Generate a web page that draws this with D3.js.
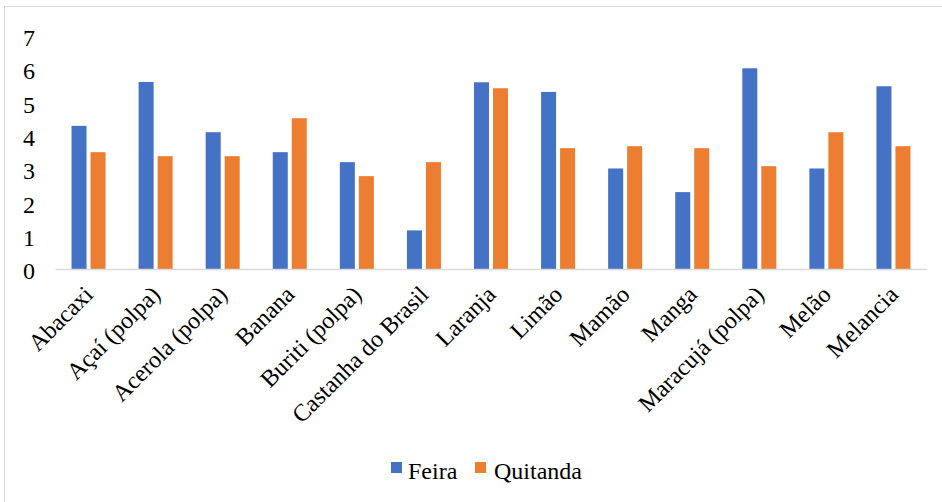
<!DOCTYPE html>
<html>
<head>
<meta charset="utf-8">
<script src="https://cdn.jsdelivr.net/npm/d3@7"></script>
<style>
  html, body { margin: 0; padding: 0; background: #fff; }
  svg { display: block; }
</style>
</head>
<body>
<svg id="chart" width="942" height="502"></svg>
<script>
const categories = ["Abacaxi", "Açaí (polpa)", "Acerola (polpa)", "Banana", "Buriti (polpa)",
  "Castanha do Brasil", "Laranja", "Limão", "Mamão", "Manga", "Maracujá (polpa)", "Melão", "Melancia"];
const seriesNames = ["Feira", "Quitanda"];
const feira =    [4.30, 5.62, 4.11, 3.51, 3.21, 1.16, 5.61, 5.32, 3.02, 2.31, 6.03, 3.02, 5.49];
const quitanda = [3.51, 3.39, 3.39, 4.53, 2.79, 3.21, 5.43, 3.63, 3.69, 3.63, 3.09, 4.11, 3.69];
const yTicks = [0, 1, 2, 3, 4, 5, 6, 7];
const colors = ["#4472C4", "#ED7D31"];
const FONT = "'Liberation Serif', 'Times New Roman', Times, serif";

const svg = d3.select("#chart").attr("font-family", FONT);
const W = 942, H = 502;
svg.append("rect").attr("width", W).attr("height", H).attr("fill", "#fff");
// chart border (cropped at right/bottom)
svg.append("rect").attr("x", 4.5).attr("y", 6.5).attr("width", W + 20).attr("height", H + 20)
  .attr("fill", "none").attr("stroke", "#d9d9d9").attr("stroke-width", 1);

const plotLeft = 55, plotRight = 927, yBase = 269, yTop = 36;
const x0 = d3.scaleBand().domain(categories).range([plotLeft, plotRight]).padding(0);
const x1 = d3.scaleBand().domain(seriesNames).range([0, x0.bandwidth()])
  .paddingInner(0.21).paddingOuter(0.87);
const y = d3.scaleLinear().domain([0, 7]).range([yBase, yTop]);

const data = categories.map((c, i) => ({ cat: c, vals: [feira[i], quitanda[i]] }));

// bars
const g = svg.append("g");
g.selectAll("g.cat").data(data).join("g")
  .attr("class", "cat")
  .attr("transform", d => `translate(${x0(d.cat)},0)`)
  .selectAll("rect").data(d => d.vals.map((v, k) => ({ k, v })))
  .join("rect")
  .attr("x", d => x1(seriesNames[d.k]))
  .attr("width", x1.bandwidth())
  .attr("y", d => y(d.v))
  .attr("height", d => y(0) - y(d.v))
  .attr("fill", d => colors[d.k]);

// x axis line
const xAxis = d3.axisBottom(x0).tickSize(0).tickFormat("");
const xg = svg.append("g").attr("transform", `translate(0,${yBase})`).call(xAxis);
xg.select(".domain").attr("stroke", "#d9d9d9").attr("stroke-width", 1.5);

// x labels rotated
svg.append("g").selectAll("text").data(categories).join("text")
  .attr("transform", d => `translate(${x0(d) + x0.bandwidth() / 2 + 6},${yBase + 27}) rotate(-45)`)
  .attr("text-anchor", "end")
  .attr("font-family", FONT)
  .attr("font-size", 24)
  .attr("fill", "#000")
  .text(d => d);

// y axis labels
const yAxis = d3.axisLeft(y).tickValues(yTicks).tickSize(0).tickPadding(0).tickFormat(d3.format("d"));
const yg = svg.append("g").attr("transform", `translate(35,0)`).call(yAxis)
  .attr("font-family", FONT).attr("font-size", 24);
yg.select(".domain").remove();
yg.selectAll("text").attr("font-family", FONT).attr("font-size", 24).attr("fill", "#000").attr("dy", "0.4em");

// legend
const legend = svg.append("g");
const legendItems = [{ name: seriesNames[0], x: 391, tx: 408 }, { name: seriesNames[1], x: 475, tx: 494 }];
legendItems.forEach((it, i) => {
  legend.append("rect").attr("x", it.x).attr("y", 462).attr("width", 11).attr("height", 11).attr("fill", colors[i]);
  legend.append("text").attr("x", it.tx).attr("y", 479)
    .attr("font-family", FONT).attr("font-size", 24).attr("fill", "#000").text(it.name);
});
</script>
</body>
</html>
